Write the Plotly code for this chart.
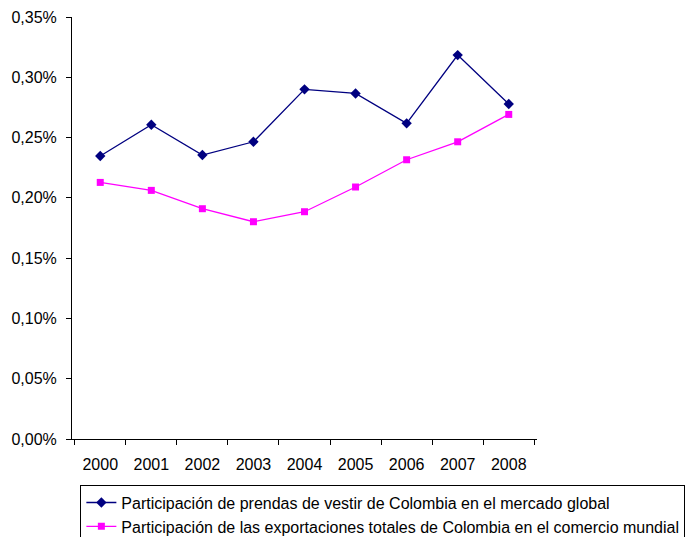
import plotly.graph_objects as go

years = ["2000", "2001", "2002", "2003", "2004", "2005", "2006", "2007", "2008"]
prendas = [0.2347, 0.2606, 0.2355, 0.2465, 0.2900, 0.2866, 0.2618, 0.3184, 0.2778]
exportaciones = [0.2128, 0.2062, 0.1910, 0.1802, 0.1885, 0.2090, 0.2316, 0.2465, 0.2692]
y_ticks = [0, 0.05, 0.10, 0.15, 0.20, 0.25, 0.30, 0.35]

fig = go.Figure()
fig.add_trace(go.Scatter(
    x=years, y=[v / 100 for v in prendas],
    mode='lines+markers',
    name='Participación de prendas de vestir de Colombia en el mercado global',
    line=dict(color='#000080', width=1.3),
    marker=dict(symbol='diamond', size=8, color='#000080'),
))
fig.add_trace(go.Scatter(
    x=years, y=[v / 100 for v in exportaciones],
    mode='lines+markers',
    name='Participación de las exportaciones totales de Colombia en el comercio mundial',
    line=dict(color='#FF00FF', width=1.3),
    marker=dict(symbol='square', size=7, color='#FF00FF'),
))

fig.update_xaxes(
    type='category',
    showline=True, linecolor='black', linewidth=1,
    ticks='outside', tickson='boundaries', ticklen=5, tickcolor='black',
    ticklabelstandoff=11,
    showgrid=False, zeroline=False, automargin=False,
)
fig.update_yaxes(
    range=[0, 0.0035],
    tickvals=[t / 100 for t in y_ticks],
    tickformat='.2%',
    showline=True, linecolor='black', linewidth=1,
    ticks='outside', ticklen=5, tickcolor='black',
    ticklabelstandoff=6,
    showgrid=False, zeroline=False, automargin=False,
)
# the page body adds an 8px offset, so margins are shifted to compensate
fig.update_layout(
    width=694, height=537,
    autosize=False,
    separators=',.',
    font=dict(family='Liberation Sans, Arial', size=16, color='black'),
    margin=dict(l=64, r=165, t=9, b=106, autoexpand=False),
    plot_bgcolor='white',
    paper_bgcolor='white',
    showlegend=True,
    legend=dict(
        x=0.018, y=-0.108, xanchor='left', yanchor='top',
        bordercolor='black', borderwidth=1,
        font=dict(size=16),
        itemwidth=30,
        tracegroupgap=0,
    ),
)

fig.write_html("out.html")
